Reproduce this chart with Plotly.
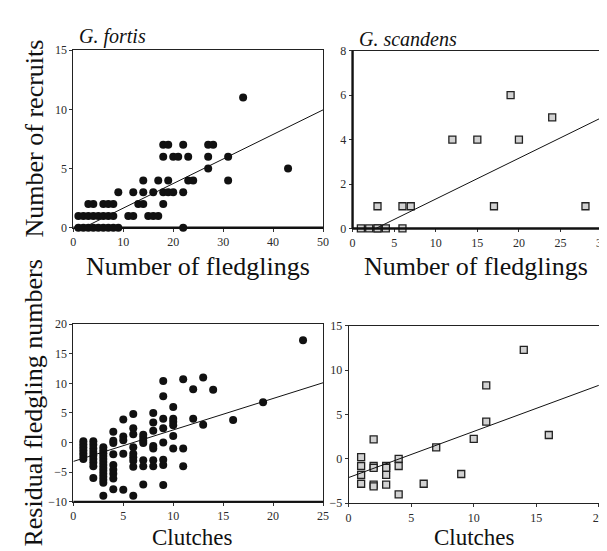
import plotly.graph_objects as go

# ---------------- DATA ----------------
# G. fortis: number of fledglings vs number of recruits
fortis_fledglings = [1, 2, 3, 4, 5, 6, 7, 8, 9, 22,
                     1, 2, 3, 4, 5, 6, 7, 8, 11, 12, 15, 16, 17,
                     3, 4, 6, 7, 8, 13, 14, 18,
                     9, 12, 14, 16, 18, 19, 20, 22,
                     14, 17, 19, 23, 24, 31,
                     27, 43,
                     18, 20, 21, 23, 27, 31,
                     18, 19, 22, 27, 28,
                     34]
fortis_recruits = [0, 0, 0, 0, 0, 0, 0, 0, 0, 0,
                   1, 1, 1, 1, 1, 1, 1, 1, 1, 1, 1, 1, 1,
                   2, 2, 2, 2, 2, 2, 2, 2,
                   3, 3, 3, 3, 3, 3, 3, 3,
                   4, 4, 4, 4, 4, 4,
                   5, 5,
                   6, 6, 6, 6, 6, 6,
                   7, 7, 7, 7, 7,
                   11]
fortis_fit1_x = [2.0, 50.0]
fortis_fit1_y = [0.0, 9.95]

# G. scandens: number of fledglings vs number of recruits
scandens_fledglings = [1, 2, 3, 3, 4, 6, 3, 6, 7, 17, 28, 12, 15, 20, 24, 19]
scandens_recruits = [0, 0, 0, 0, 0, 0, 1, 1, 1, 1, 1, 4, 4, 4, 5, 6]
scandens_fit1_x = [2.8, 30.0]
scandens_fit1_y = [0.0, 5.0]

# G. fortis: clutches vs residual fledgling numbers
fortis_clutches = ([1] * 7 + [2] * 9 + [3] * 14 + [4] * 9 + [5] * 5 + [6] * 9 +
                   [7] * 7 + [8] * 7 + [9] * 8 + [10] * 6 + [11] * 3 + [12] * 2 +
                   [13] * 2 + [14, 16, 19, 23])
fortis_residuals = [0.2, -0.3, -0.8, -1.3, -1.8, -2.3, -2.8,
                    0.2, -0.4, -1.0, -1.6, -2.2, -2.8, -3.4, -4.0, -6.0,
                    -0.8, -1.3, -1.8, -2.3, -2.8, -3.3, -3.8, -4.3, -4.8, -5.3, -5.8, -6.3, -6.8, -9.0,
                    1.8, 0.3, -0.1, -2.0, -3.8, -4.6, -5.3, -6.1, -7.9,
                    3.9, 1.0, 0.4, -1.9, -8.0,
                    4.8, 2.4, 1.4, -0.8, -1.9, -2.5, -3.1, -4.1, -9.0,
                    1.3, 0.8, 0.3, -0.1, -3.0, -4.0, -7.1,
                    5.0, 3.4, 2.0, -0.6, -1.0, -3.0, -4.0,
                    10.4, 7.8, 4.0, 2.4, 0.0, -2.9, -3.8, -7.2,
                    6.0, 4.0, 3.5, 2.9, 1.1, -1.0,
                    10.7, -1.0, -4.0,
                    9.0, 4.0,
                    11.0, 3.0,
                    8.9, 3.8, 6.8, 17.3]
fortis_fit2_x = [0.0, 25.0]
fortis_fit2_y = [-3.2, 10.1]

# G. scandens: clutches vs residual fledgling numbers
scandens_clutches = [1, 1, 1, 1, 2, 2, 2, 2, 2, 3, 3, 3, 3, 4, 4, 4,
                     6, 7, 9, 10, 11, 11, 14, 16]
scandens_residuals = [0.2, -0.8, -1.8, -2.8, 2.2, -0.8, -1.0, -2.9, -3.1,
                      -0.8, -1.0, -1.8, -2.9, 0.0, -0.8, -4.0,
                      -2.8, 1.3, -1.7, 2.25, 8.3, 4.2, 12.3, 2.7]
scandens_fit2_x = [0.0, 20.0]
scandens_fit2_y = [-2.1, 8.3]

# ---------------- FIGURE ----------------
W, H = 607, 551
SERIF = "Liberation Serif"

def px_x(p):
    return p / W

def px_y(p):
    return 1 - p / H

dot = dict(symbol="circle", size=8, color="#111111", line=dict(width=0))
sq = dict(symbol="square", size=7, color="#d2d2d2", line=dict(width=1.3, color="#222222"))
fitline = dict(color="#111111", width=1)

fig = go.Figure()

fig.add_trace(go.Scatter(x=fortis_fledglings, y=fortis_recruits, mode="markers",
                         marker=dot, xaxis="x", yaxis="y", cliponaxis=False))
fig.add_trace(go.Scatter(x=fortis_fit1_x, y=fortis_fit1_y, mode="lines",
                         line=fitline, xaxis="x", yaxis="y"))

fig.add_trace(go.Scatter(x=scandens_fledglings, y=scandens_recruits, mode="markers",
                         marker=sq, xaxis="x2", yaxis="y2", cliponaxis=False))
fig.add_trace(go.Scatter(x=scandens_fit1_x, y=scandens_fit1_y, mode="lines",
                         line=fitline, xaxis="x2", yaxis="y2"))

fig.add_trace(go.Scatter(x=fortis_clutches, y=fortis_residuals, mode="markers",
                         marker=dot, xaxis="x3", yaxis="y3", cliponaxis=False))
fig.add_trace(go.Scatter(x=fortis_fit2_x, y=fortis_fit2_y, mode="lines",
                         line=fitline, xaxis="x3", yaxis="y3"))

fig.add_trace(go.Scatter(x=scandens_clutches, y=scandens_residuals, mode="markers",
                         marker=sq, xaxis="x4", yaxis="y4", cliponaxis=False))
fig.add_trace(go.Scatter(x=scandens_fit2_x, y=scandens_fit2_y, mode="lines",
                         line=fitline, xaxis="x4", yaxis="y4"))

tickfont = dict(family=SERIF, size=12, color="#2a2a2a")

def axis(domain, rng, dtick, anchor):
    return dict(domain=domain, range=rng, dtick=dtick, tick0=0, anchor=anchor,
                showgrid=False, zeroline=False, showline=True, mirror=True,
                linecolor="#222222", linewidth=1, ticks="outside", ticklen=3,
                tickwidth=1, tickcolor="#333333", tickfont=tickfont, fixedrange=True)

panels = {
    1: dict(xd=[px_x(63.3), px_x(316.7)], yd=[px_y(218.3), px_y(36)], xr=[0, 50], yr=[0, 15], xt=10, yt=5),
    2: dict(xd=[px_x(346.7), px_x(600)], yd=[px_y(219), px_y(36.7)], xr=[0, 30], yr=[0, 8], xt=5, yt=2),
    3: dict(xd=[px_x(63.3), px_x(316.7)], yd=[px_y(499.3), px_y(317.3)], xr=[0, 25], yr=[-10, 20], xt=5, yt=5),
    4: dict(xd=[px_x(342.7), px_x(596.7)], yd=[px_y(501), px_y(319)], xr=[0, 20], yr=[-5, 15], xt=5, yt=5),
}

layout = dict(width=W, height=H, margin=dict(l=0, r=0, t=0, b=0),
              paper_bgcolor="white", plot_bgcolor="white", showlegend=False)
for i, p in panels.items():
    sfx = "" if i == 1 else str(i)
    layout["xaxis" + sfx] = axis(p["xd"], p["xr"], p["xt"], "y" + sfx)
    layout["yaxis" + sfx] = axis(p["yd"], p["yr"], p["yt"], "x" + sfx)
fig.update_layout(**layout)

# thicker axis lines as in the reference
def thick(xref, yref, x0, y0, x1, y1, w):
    fig.add_shape(type="line", xref=xref, yref=yref, x0=x0, y0=y0, x1=x1, y1=y1,
                  line=dict(color="#111111", width=w), layer="above")

thick("x domain", "y domain", 0, 0, 1, 0, 2.4)
thick("x2 domain", "y2 domain", 0, 0, 1, 0, 2.4)
thick("x2 domain", "y2 domain", 0, 0, 0, 1, 2.4)
thick("x3 domain", "y3 domain", 0, 0, 1, 0, 1.6)

def note(text, x, y, angle=0, size=26, yanchor="middle"):
    fig.add_annotation(text=text, x=px_x(x), y=px_y(y), xref="paper", yref="paper",
                       showarrow=False, textangle=angle,
                       font=dict(family=SERIF, size=size, color="#111111"),
                       xanchor="center", yanchor=yanchor)

note("Number of recruits", 24, 127, -90)
note("Residual fledgling numbers", 23, 398, -90, 26)
note("Number of fledglings", 190, 258)
note("Number of fledglings", 472, 258)
note("Clutches", 184, 551, 0, 23, "bottom")
note("Clutches", 470, 551, 0, 23, "bottom")

italic = dict(family=SERIF, size=20, color="#111111")
fig.add_annotation(text="<i>G. fortis</i>", x=px_x(67), y=px_y(22), xref="paper", yref="paper",
                   showarrow=False, font=italic, xanchor="left", yanchor="middle")
fig.add_annotation(text="<i>G. scandens</i>", x=px_x(351), y=px_y(24.5), xref="paper", yref="paper",
                   showarrow=False, font=italic, xanchor="left", yanchor="middle")

fig.write_html("out.html")
